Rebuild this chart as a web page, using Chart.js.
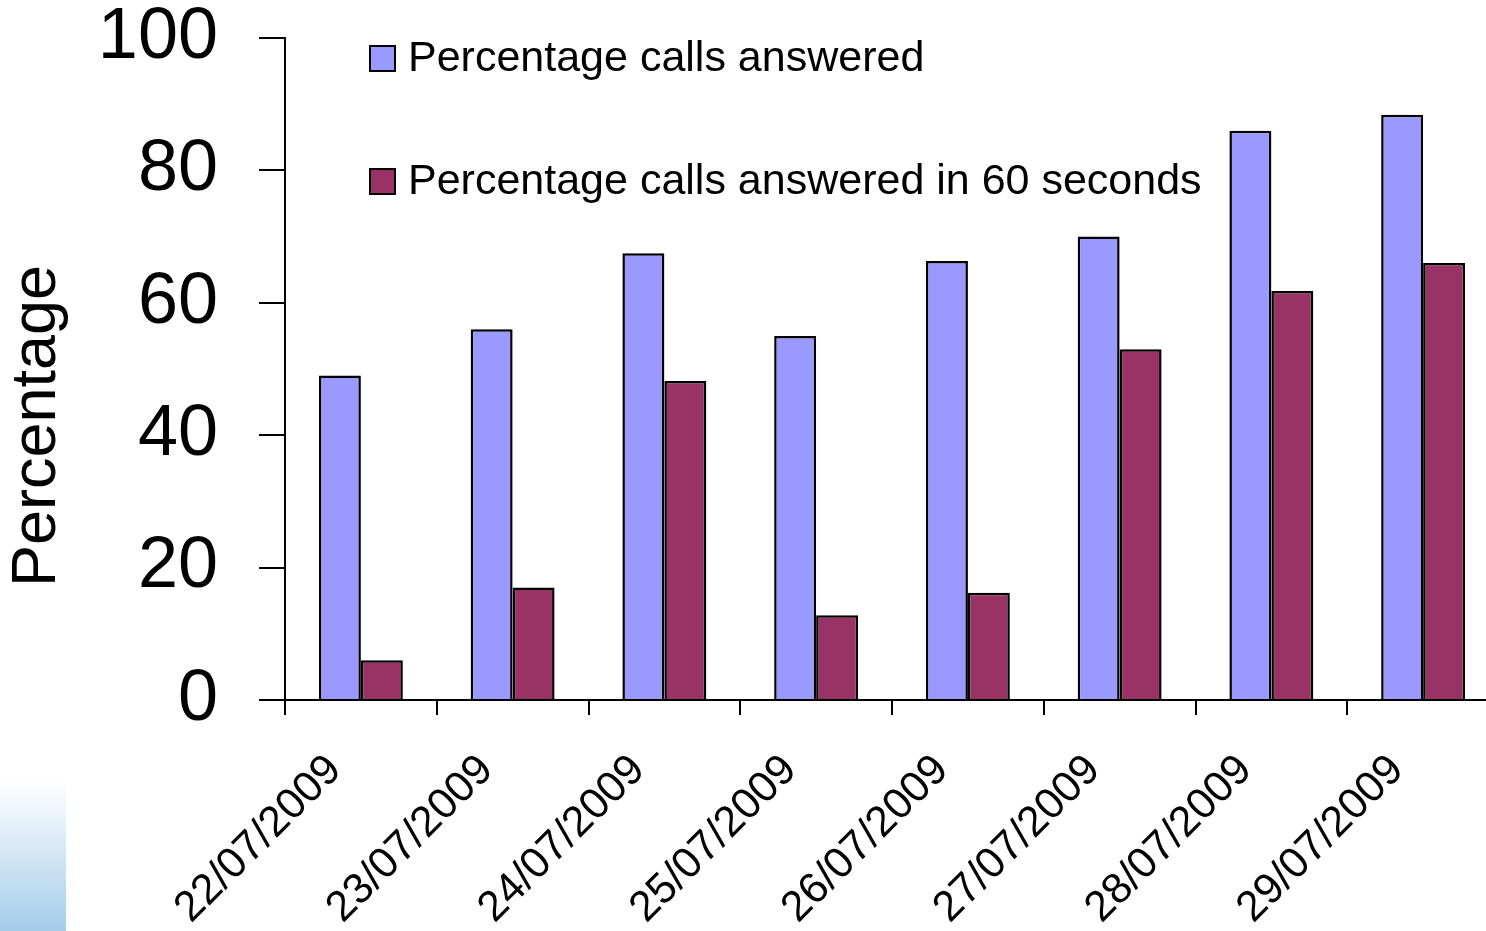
<!DOCTYPE html>
<html>
<head>
<meta charset="utf-8">
<script src="https://cdn.jsdelivr.net/npm/chart.js@4.4.1/dist/chart.umd.min.js"></script>
<style>
  html, body { margin: 0; padding: 0; background: #ffffff; overflow: hidden; width: 1486px; height: 931px; }
  #deco { position: absolute; left: 0; top: 780px; width: 66px; height: 151px;
          background: linear-gradient(to bottom, #ffffff 0%, #dcebf6 40%, #a3cdea 100%); z-index: 0; }
  #wrap { position: absolute; left: 0; top: 0; width: 1499px; height: 931px; z-index: 1; }
</style>
</head>
<body>
<div id="deco"></div>
<div id="wrap"><canvas id="c" width="1499" height="931"></canvas></div>
<script>
const categories = ['22/07/2009','23/07/2009','24/07/2009','25/07/2009','26/07/2009','27/07/2009','28/07/2009','29/07/2009'];
const answered = [49, 56, 67.5, 55, 66.3, 70, 86, 88.4];
const answered60 = [6, 17, 48.2, 12.8, 16.2, 53, 61.8, 66];
const seriesLabels = ['Percentage calls answered', 'Percentage calls answered in 60 seconds'];
const yTicks = [0, 20, 40, 60, 80, 100];
const yTitle = 'Percentage';

const FONT = '"Liberation Sans", Arial, sans-serif';

const legendPlugin = {
  id: 'customLegend',
  afterDraw(chart) {
    const ctx = chart.ctx;
    ctx.save();
    const items = chart.data.datasets;
    const rows = [58, 181];
    items.forEach((ds, i) => {
      const y = rows[i];
      ctx.fillStyle = ds.backgroundColor;
      ctx.fillRect(370, y - 12, 25, 25);
      ctx.lineWidth = 2;
      ctx.strokeStyle = '#000';
      ctx.strokeRect(370, y - 12, 25, 25);
      ctx.fillStyle = '#000';
      ctx.font = '43px ' + FONT;
      ctx.textBaseline = 'middle';
      ctx.textAlign = 'left';
      ctx.fillText(ds.label, 408, y + 1);
    });
    // y axis title
    ctx.translate(38, 426);
    ctx.rotate(-Math.PI / 2);
    ctx.font = '63px ' + FONT;
    ctx.textAlign = 'center';
    ctx.textBaseline = 'middle';
    ctx.fillStyle = '#000';
    ctx.fillText(yTitle, 0, 0);
    ctx.restore();
  }
};

new Chart(document.getElementById('c'), {
  type: 'bar',
  data: {
    labels: categories,
    datasets: [
      { label: seriesLabels[0], data: answered, backgroundColor: '#9999ff', borderColor: '#000', borderWidth: 2.5, borderSkipped: 'bottom' },
      { label: seriesLabels[1], data: answered60, backgroundColor: '#993366', borderColor: '#000', borderWidth: 2.5, borderSkipped: 'bottom' }
    ]
  },
  options: {
    responsive: false,
    animation: false,
    devicePixelRatio: 1,
    layout: { padding: { top: 38, right: 0, bottom: 0, left: 0 } },
    plugins: { legend: { display: false }, tooltip: { enabled: false } },
    datasets: { bar: { categoryPercentage: 0.553, barPercentage: 1.0 } },
    scales: {
      x: {
        offset: true,
        grid: { display: true, drawOnChartArea: false, drawTicks: true, tickLength: 15, color: '#000', lineWidth: 2, offset: true },
        border: { display: true, color: '#000', width: 2 },
        ticks: { color: '#000', font: { family: FONT, size: 43 }, maxRotation: 45, minRotation: 45, padding: 30, labelOffset: -26, autoSkip: false },
        afterFit(scale) { scale.height = 231; scale.paddingLeft = 0; scale.paddingRight = 0; }
      },
      y: {
        min: 0, max: 100,
        afterBuildTicks(scale) { scale.ticks = yTicks.map(v => ({ value: v })); },
        grid: { display: true, drawOnChartArea: false, drawTicks: true, tickLength: 26, color: '#000', lineWidth: 2 },
        border: { display: true, color: '#000', width: 2 },
        ticks: { color: '#000', font: { family: FONT, size: 72 }, padding: 41 },
        afterFit(scale) { scale.width = 285; scale.paddingTop = 0; scale.paddingBottom = 0; }
      }
    }
  },
  plugins: [legendPlugin]
});
</script>
</body>
</html>
